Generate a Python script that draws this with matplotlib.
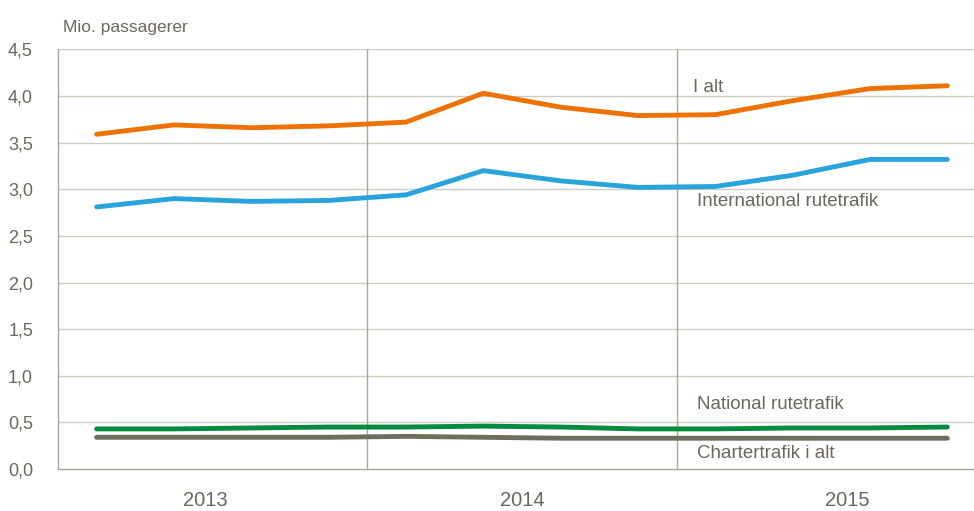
import matplotlib
matplotlib.use("Agg")
import matplotlib.pyplot as plt
from matplotlib import font_manager

quarters = list(range(12))
i_alt = [3.59, 3.69, 3.66, 3.68, 3.72, 4.03, 3.88, 3.79, 3.80, 3.95, 4.08, 4.11]
international = [2.81, 2.90, 2.87, 2.88, 2.94, 3.20, 3.09, 3.02, 3.03, 3.15, 3.32, 3.32]
national = [0.43, 0.43, 0.44, 0.45, 0.45, 0.46, 0.45, 0.43, 0.43, 0.44, 0.44, 0.45]
charter = [0.34, 0.34, 0.34, 0.34, 0.35, 0.34, 0.33, 0.33, 0.33, 0.33, 0.33, 0.33]
years = ["2013", "2014", "2015"]
y_ticks = [0.0, 0.5, 1.0, 1.5, 2.0, 2.5, 3.0, 3.5, 4.0, 4.5]
y_tick_labels = ["0,0", "0,5", "1,0", "1,5", "2,0", "2,5", "3,0", "3,5", "4,0", "4,5"]

names = {f.name for f in font_manager.fontManager.ttflist}
fam = [f for f in ["Liberation Sans Narrow", "Liberation Sans", "DejaVu Sans"] if f in names]
plt.rcParams['font.family'] = fam

TXT = "#6b675c"
GRID = "#cfcdc3"
VLINE = "#aaa797"

fig = plt.figure(figsize=(9.74, 5.11), dpi=100)
ax = fig.add_axes([58/974, 1 - 469/511, 928/974, 419.6/511])

ax.set_xlim(-0.5, 11.5)
ax.set_ylim(0, 4.5)

for y in y_ticks[1:]:
    ax.axhline(y, color=GRID, lw=1.0, zorder=1)
for xv in [3.5, 7.5]:
    ax.axvline(xv, color=VLINE, lw=1.0, zorder=1)

lw = 3.5
ax.plot(quarters, i_alt, color="#ee7203", lw=lw, solid_capstyle="round", zorder=3)
ax.plot(quarters, international, color="#29a3dc", lw=lw, solid_capstyle="round", zorder=3)
ax.plot(quarters, national, color="#008a3e", lw=lw, solid_capstyle="round", zorder=3)
ax.plot(quarters, charter, color="#6e6d5e", lw=lw, solid_capstyle="round", zorder=2)

for s in ["top", "right"]:
    ax.spines[s].set_visible(False)
for s in ["left", "bottom"]:
    ax.spines[s].set_color(VLINE)
    ax.spines[s].set_linewidth(1.0)

ax.set_yticks(y_ticks)
ax.set_yticklabels(y_tick_labels, fontsize=13, color=TXT)
ax.tick_params(axis="y", length=0, pad=18)
ax.set_xticks([1.4, 5.5, 9.7])
ax.set_xticklabels(years, fontsize=14.5, color=TXT)
ax.tick_params(axis="x", length=0, pad=16)

fig.text(63/974, 1 - 27/511, "Mio. passagerer", fontsize=12.5, color=TXT, va="center", ha="left")

lab_kw = dict(fontsize=13.5, color=TXT, va="center", ha="left")
def xpix(px):
    return (px - 58) / 77.33 - 0.5
ax.text(xpix(693), 4.09, "I alt", **lab_kw)
ax.text(xpix(697), 2.87, "International rutetrafik", **lab_kw)
ax.text(xpix(697), 0.69, "National rutetrafik", **lab_kw)
ax.text(xpix(697), 0.17, "Chartertrafik i alt", **lab_kw)

fig.savefig("out.png", dpi=100)
